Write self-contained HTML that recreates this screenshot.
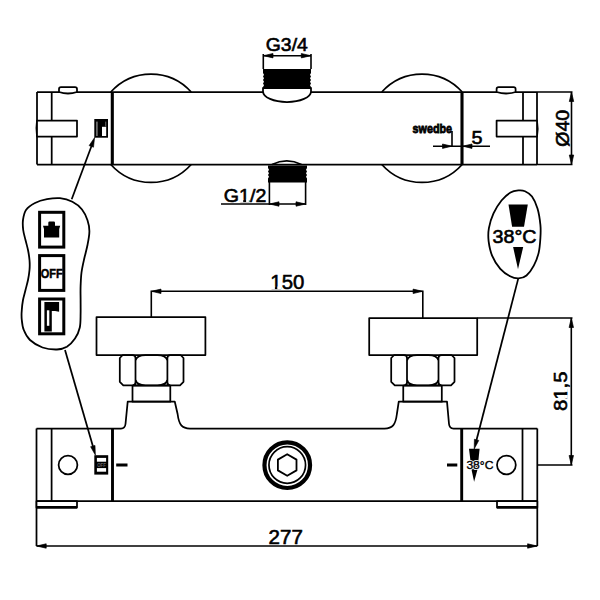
<!DOCTYPE html>
<html><head><meta charset="utf-8">
<style>
html,body{margin:0;padding:0;background:#fff;width:600px;height:600px;overflow:hidden}
svg{display:block}
text{font-family:"Liberation Sans",sans-serif;fill:#000}
</style></head>
<body>
<svg width="600" height="600" viewBox="0 0 600 600">
<g fill="none" stroke="#000" stroke-width="1.75" stroke-linejoin="round">
<!-- ============ TOP VIEW ============ -->
<!-- body lines -->
<path d="M37,92 H537 M37,164.5 H537"/>
<!-- left end -->
<path d="M37,92 V120.5 Q35.8,128.5 37,136.5 V164.5"/>
<path d="M51.7,92 V120.5 M51.7,136.5 V164.5"/>
<rect x="37" y="120.5" width="40" height="16" fill="#fff"/>
<path d="M59,92 V89 Q59,87 61,87 H75 Q77,87 77,89 V92 Q68,95 59,92 Z" fill="#fff"/>
<!-- right end -->
<path d="M537,92 V120.6 Q538.4,128.6 537,136.6 V164.5"/>
<path d="M523,92 V120.6 M523,136.6 V164.5"/>
<rect x="496.6" y="120.6" width="40.4" height="16" fill="#fff"/>
<path d="M496.6,92 V89 Q496.6,87 498.6,87 H513.6 Q515.6,87 515.6,89 V92 Q506,95 496.6,92 Z" fill="#fff"/>
<!-- circles -->
<path d="M110.8,92 A54,54 0 0,1 191.2,92 M110.8,164.5 A54,54 0 0,0 191.2,164.5"/>
<path d="M381.8,92 A54,54 0 0,1 462.2,92 M381.8,164.5 A54,54 0 0,0 462.2,164.5"/>
<!-- thick lines -->
<path d="M112.3,92 V164.5 M462,92 V164.5" stroke-width="3.1"/>
</g>
<!-- switch icon top -->
<rect x="94.3" y="119" width="13.7" height="18.7" fill="#000"/>
<rect x="102" y="126.8" width="4.2" height="9.2" fill="#fff"/>
<rect x="96.1" y="121.6" width="1.6" height="14.4" fill="#777"/>
<rect x="105" y="121.6" width="1.3" height="5.2" fill="#555"/>
<!-- G3/4 connector -->
<path d="M263,69 H311 V73 L310,74.7 311,76.5 310,78.3 311,80 310,81.8 311,83.5 310,85.3 311,87 V88 H263 V87 L264,85.3 263,83.5 264,81.8 263,80 264,78.3 263,76.5 264,74.7 263,73 Z" fill="#000"/>
<path d="M263,88 V91.5 A24,10.5 0 0,0 311,91.5 V88 Z" fill="#fff" stroke="#000" stroke-width="1.75"/>
<g stroke="#000" stroke-width="1.6" fill="none">
<path d="M263.3,54 V69 M311,54 V69 M263.3,55.7 H311"/>
</g>
<path d="M263.5,55.7 L273,53.5 L273,57.9 Z M310.8,55.7 L301.3,53.5 L301.3,57.9 Z" fill="#000" stroke="#000" stroke-width="0.7" stroke-linejoin="round"/>
<text x="265.8" y="51.4" font-size="18.5" textLength="42" lengthAdjust="spacingAndGlyphs" stroke="#000" stroke-width="0.6">G3/4</text>
<!-- G1/2 connector -->
<path d="M272,164.5 A33.7,33.7 0 0,1 301.5,164.5" fill="none" stroke="#000" stroke-width="1.75"/>
<path d="M268,165.6 H307 V168 L306,169.7 307,171.5 306,173.3 307,175 306,176.8 307,178.5 V182.4 H268 V178.5 L269,176.8 268,175 269,173.3 268,171.5 269,169.7 268,168 Z" fill="#000"/>
<g stroke="#000" stroke-width="1.6" fill="none">
<path d="M269.4,182 V205 M305.6,182 V205 M221,204 H305.6"/>
</g>
<path d="M269.6,204 L279,201.8 L279,206.2 Z M305.4,204 L296,201.8 L296,206.2 Z" fill="#000" stroke="#000" stroke-width="0.7" stroke-linejoin="round"/>
<text x="223.8" y="202" font-size="19" textLength="42.5" lengthAdjust="spacingAndGlyphs" stroke="#000" stroke-width="0.6">G1/2</text>
<!-- swedbe / 5 -->
<text x="412.6" y="132.9" font-size="12.5" font-weight="bold" textLength="39.5" lengthAdjust="spacingAndGlyphs" stroke="#000" stroke-width="0.8">swedbe</text>
<g stroke="#000" stroke-width="1.6" fill="none">
<path d="M452,131 V146.2 M433,146.2 H490"/>
</g>
<path d="M451.8,146.2 L442.5,144 L442.5,148.4 Z M462.8,146.2 L472,144 L472,148.4 Z" fill="#000" stroke="#000" stroke-width="0.7" stroke-linejoin="round"/>
<text x="471.5" y="143.8" font-size="18" textLength="11" lengthAdjust="spacingAndGlyphs" stroke="#000" stroke-width="0.6">5</text>
<!-- Ø40 -->
<g stroke="#000" stroke-width="1.6" fill="none">
<path d="M537,92 H572.5 M537,164.5 H572.5 M571.5,92 V164.5"/>
</g>
<path d="M571.5,92.2 L569.3,101.5 L573.7,101.5 Z M571.5,164.3 L569.3,155 L573.7,155 Z" fill="#000" stroke="#000" stroke-width="0.7" stroke-linejoin="round"/>
<text transform="translate(569.3,146.8) rotate(-90)" font-size="19" textLength="37" lengthAdjust="spacingAndGlyphs" stroke="#000" stroke-width="0.6">Ø40</text>

<!-- ============ BOTTOM VIEW ============ -->
<g fill="none" stroke="#000" stroke-width="1.75" stroke-linejoin="round">
<!-- nut boxes -->
<rect x="96.5" y="317" width="108.9" height="38"/>
<rect x="369.2" y="318" width="108" height="37"/>
<!-- hex nuts left -->
<path d="M122.8,355 H132.5 Q135.5,355 135.5,358 V382.3 Q135.5,385.3 132.5,385.3 H123.3 L119.8,381.8 V358 L122.8,355 Z M135.5,360.5 C136.3,357 139.5,355 145.5,355 H157.4 C163.4,355 166.6,357 167.4,360.5 V379.8 C166.6,383.3 163.4,385.3 157.4,385.3 H145.5 C139.5,385.3 136.3,383.3 135.5,379.8 Z M180.5,355 H170.4 Q167.4,355 167.4,358 V382.3 Q167.4,385.3 170.4,385.3 H180.0 L183.5,381.8 V358 L180.5,355 Z M123.3,385.3 H180.0"/>
<rect x="132.5" y="385.5" width="37.8" height="16.2"/>
<!-- hex nuts right -->
<path d="M394.2,355 H404.0 Q407.0,355 407.0,358 V382.3 Q407.0,385.3 404.0,385.3 H394.8 L391.2,381.8 V358 L394.2,355 Z M407.0,360.5 C407.8,357 411.0,355 417.0,355 H428.5 C434.5,355 437.7,357 438.5,360.5 V379.8 C437.7,383.3 434.5,385.3 428.5,385.3 H417.0 C411.0,385.3 407.8,383.3 407.0,379.8 Z M451.5,355 H441.5 Q438.5,355 438.5,358 V382.3 Q438.5,385.3 441.5,385.3 H451.0 L454.5,381.8 V358 L451.5,355 Z M394.8,385.3 H451.0"/>
<rect x="403.25" y="385.5" width="38.55" height="16.2"/>
<!-- body top with flanges -->
<path d="M36.5,428.5 H121 Q125,428.5 125.5,424 L127.7,401.7 H174.8 L177.6,414 C179,425 182,428.5 190,428.5 H384.5 C392.5,428.5 395.5,425 396.9,414 L398.75,401.7 H447 L449,424 Q449.5,428.5 453.5,428.5 H537.3"/>
<path d="M36.5,501 H537.3"/>
<path d="M36.5,428.5 V546 M537.3,428.5 V546"/>
<path d="M51.6,428.5 V501 M522.5,428.5 V501"/>
<rect x="36.5" y="501" width="40.5" height="6.5" fill="#fff"/>
<rect x="497" y="501" width="40.3" height="6.5" fill="#fff"/>
<path d="M36.5,507.2 H77 M497,507.2 H537.3" stroke-width="2.4"/>
<path d="M112.5,428.5 V501 M461.7,428.5 V501" stroke-width="2.9"/>
<circle cx="68" cy="465" r="9.4"/>
<circle cx="506.4" cy="465" r="9.4"/>
<circle cx="287.25" cy="465.2" r="22.8" stroke-width="4.2"/>
<circle cx="287.25" cy="465" r="18.3" stroke-width="1.7"/>
<path d="M287.2,454.2 L296.5,459.6 V470.4 L287.2,475.8 L277.9,470.4 V459.6 Z" stroke-width="1.8"/>
<path d="M116.2,465 H127.5 M447,465 H457.3" stroke-width="3"/>
</g>
<!-- switch icon bottom -->
<rect x="94.3" y="455.2" width="13.9" height="19.4" fill="#000"/>
<rect x="96.9" y="457.9" width="9.2" height="3.8" fill="#fff"/>
<rect x="96.9" y="468.1" width="9.2" height="3.6" fill="#fff"/>
<text x="97.2" y="467.2" font-size="4.6" font-weight="bold" textLength="8.6" lengthAdjust="spacingAndGlyphs" fill="#666" style="fill:#666">OFF</text>
<!-- thermo icon bottom -->
<path d="M469,448.8 H479.6 L477.5,469.4 L474.1,481.8 L471.5,469.4 Z" fill="#000"/>
<text x="466.4" y="469.4" font-size="11.5" textLength="27" lengthAdjust="spacingAndGlyphs" fill="#fff" stroke="#fff" stroke-width="2">38°C</text>
<text x="466.4" y="469.4" font-size="11.5" textLength="27" lengthAdjust="spacingAndGlyphs" stroke="#000" stroke-width="0.35">38°C</text>

<!-- dims bottom -->
<g stroke="#000" stroke-width="1.6" fill="none">
<path d="M151.3,317 V291.3 H422.8 V318"/>
<path d="M36.5,546 H537.3"/>
<path d="M477.2,318 H572.5 M537.3,465 H572.5 M571.3,318 V465"/>
</g>
<path d="M151.5,291.3 L161,289.1 L161,293.5 Z M422.6,291.3 L413.1,289.1 L413.1,293.5 Z" fill="#000" stroke="#000" stroke-width="0.7" stroke-linejoin="round"/>
<path d="M36.7,546 L46.2,543.8 L46.2,548.2 Z M537.1,546 L527.6,543.8 L527.6,548.2 Z" fill="#000" stroke="#000" stroke-width="0.7" stroke-linejoin="round"/>
<path d="M571.3,318.2 L569.1,327.5 L573.5,327.5 Z M571.3,464.8 L569.1,455.5 L573.5,455.5 Z" fill="#000" stroke="#000" stroke-width="0.7" stroke-linejoin="round"/>
<text x="270.3" y="289" font-size="19.5" textLength="34" lengthAdjust="spacingAndGlyphs" stroke="#000" stroke-width="0.55">150</text>
<text x="268.6" y="543.8" font-size="19.5" textLength="34.2" lengthAdjust="spacingAndGlyphs" stroke="#000" stroke-width="0.6">277</text>
<text transform="translate(566.5,411) rotate(-90)" font-size="19" textLength="39.5" lengthAdjust="spacingAndGlyphs" stroke="#000" stroke-width="0.6">81,5</text>

<!-- ============ CALLOUTS ============ -->
<g fill="none" stroke="#000" stroke-width="1.8">
<path d="M60.0,198.2 C64.2,198.6 68.7,199.9 72.4,201.8 C76.1,203.7 79.5,206.4 82.0,209.5 C84.5,212.6 86.3,216.7 87.5,220.3 C88.7,223.9 89.4,227.1 89.4,231.2 C89.4,235.4 88.4,240.4 87.5,245.0 C86.6,249.6 85.2,254.2 84.2,258.8 C83.2,263.3 82.1,267.9 81.5,272.5 C80.9,277.1 80.8,281.7 80.6,286.2 C80.4,290.8 80.6,295.4 80.6,300.0 C80.6,304.6 80.7,309.2 80.6,313.8 C80.5,318.3 80.7,323.4 79.8,327.5 C78.9,331.6 77.2,335.3 75.0,338.5 C72.8,341.7 69.9,344.9 66.9,346.8 C63.9,348.6 61.1,349.4 57.0,349.5 C52.9,349.6 47.0,349.1 42.5,347.5 C38.0,345.9 33.1,342.9 30.0,340.0 C26.9,337.1 25.1,333.3 23.8,330.0 C22.4,326.7 22.1,323.3 21.8,320.0 C21.4,316.7 21.5,313.3 21.8,310.0 C22.0,306.7 22.4,303.3 23.0,300.0 C23.6,296.7 24.7,293.3 25.5,290.0 C26.3,286.7 27.3,283.3 28.0,280.0 C28.7,276.7 29.2,273.3 29.5,270.0 C29.8,266.7 29.8,263.3 29.5,260.0 C29.2,256.7 28.7,253.3 28.0,250.0 C27.3,246.7 26.3,243.3 25.5,240.0 C24.7,236.7 23.6,233.3 23.2,230.0 C22.8,226.7 22.5,223.3 23.0,220.0 C23.5,216.7 24.0,212.8 26.0,210.0 C28.0,207.2 31.5,204.8 35.0,203.0 C38.5,201.2 42.8,200.0 47.0,199.2 C51.2,198.4 55.8,197.8 60.0,198.2 Z"/>
<path d="M518.5,190.4 C520.9,190.2 522.8,190.2 525.0,191.2 C527.2,192.2 529.9,193.6 532.0,196.5 C534.1,199.4 536.1,203.8 537.5,208.5 C538.9,213.2 539.9,219.9 540.4,224.8 C540.9,229.7 540.7,233.3 540.4,237.9 C540.1,242.5 539.8,248.0 538.7,252.6 C537.6,257.2 535.8,261.9 533.8,265.7 C531.8,269.5 529.0,273.4 526.5,275.5 C524.0,277.6 521.2,278.3 518.5,278.4 C515.8,278.5 513.1,277.9 510.1,276.3 C507.1,274.7 503.3,272.3 500.3,268.9 C497.3,265.5 494.1,260.5 492.2,255.9 C490.2,251.3 489.2,245.8 488.6,241.2 C488.1,236.6 488.1,232.7 488.9,228.1 C489.7,223.5 491.4,218.0 493.5,213.4 C495.6,208.8 498.7,204.0 501.5,200.5 C504.3,197.0 507.7,194.2 510.5,192.5 C513.3,190.8 516.1,190.6 518.5,190.4 Z"/>
</g>
<g fill="none" stroke="#000" stroke-width="1.75">
<path d="M71.7,199.3 L93,142"/>
<path d="M65,350 L94,450"/>
<path d="M518.3,278.4 L475.5,444"/>
</g>
<path d="M94.6,137.5 L93.5,147.2 L89.1,145.6 Z M95.4,455.2 L90.6,446.7 L95.0,445.4 Z M474.2,449.0 L474.4,439.2 L478.8,440.4 Z" fill="#000" stroke="#000" stroke-width="0.6" stroke-linejoin="round"/>
<!-- left bubble boxes -->
<g fill="none" stroke="#000" stroke-width="3">
<rect x="39.6" y="212.3" width="24.2" height="34.8"/>
<rect x="39.6" y="255.6" width="24.2" height="34.8"/>
<rect x="39.6" y="299" width="24.2" height="34.8"/>
</g>
<!-- bucket icon -->
<path d="M48.3,225.8 V222.8 Q48.3,221.6 49.5,221.6 H53.8 Q55,221.6 55,222.8 V225.8 H60.2 L59.2,229 V237.4 H44 V229 L43,225.8 Z" fill="#000"/>
<text x="40.8" y="278" font-size="12.8" font-weight="bold" textLength="22" lengthAdjust="spacingAndGlyphs" stroke="#000" stroke-width="0.5">OFF</text>
<!-- flag icon -->
<path d="M44.4,302 H59.1 V311.8 L55,311 H51.8 V331.4 H44.4 Z" fill="#000"/>
<rect x="46.9" y="310.3" width="2.4" height="15.5" fill="#fff"/>
<!-- right egg icons -->
<path d="M508.5,204.4 H527.8 L524,226.8 H512.1 Z" fill="#000"/>
<path d="M513.1,246.9 H523.2 L518,269.3 Z" fill="#000"/>
<text x="492.5" y="242.6" font-size="18" textLength="44" lengthAdjust="spacingAndGlyphs" stroke="#000" stroke-width="0.6">38°C</text>
<!-- hide Liberation "1" feet -->
<g fill="#fff">
<rect x="239.6" y="199.6" width="3.6" height="2.6"/>
<rect x="246.1" y="199.6" width="2.8" height="2.6"/>
<rect x="270.6" y="286.6" width="4.3" height="2.6"/>
<rect x="277.3" y="286.6" width="3.9" height="2.6"/>
<rect x="564.6" y="388.4" width="3.2" height="3.5"/>
<rect x="564.6" y="395" width="3.2" height="3.4"/>
</g>
</svg>
</body></html>
